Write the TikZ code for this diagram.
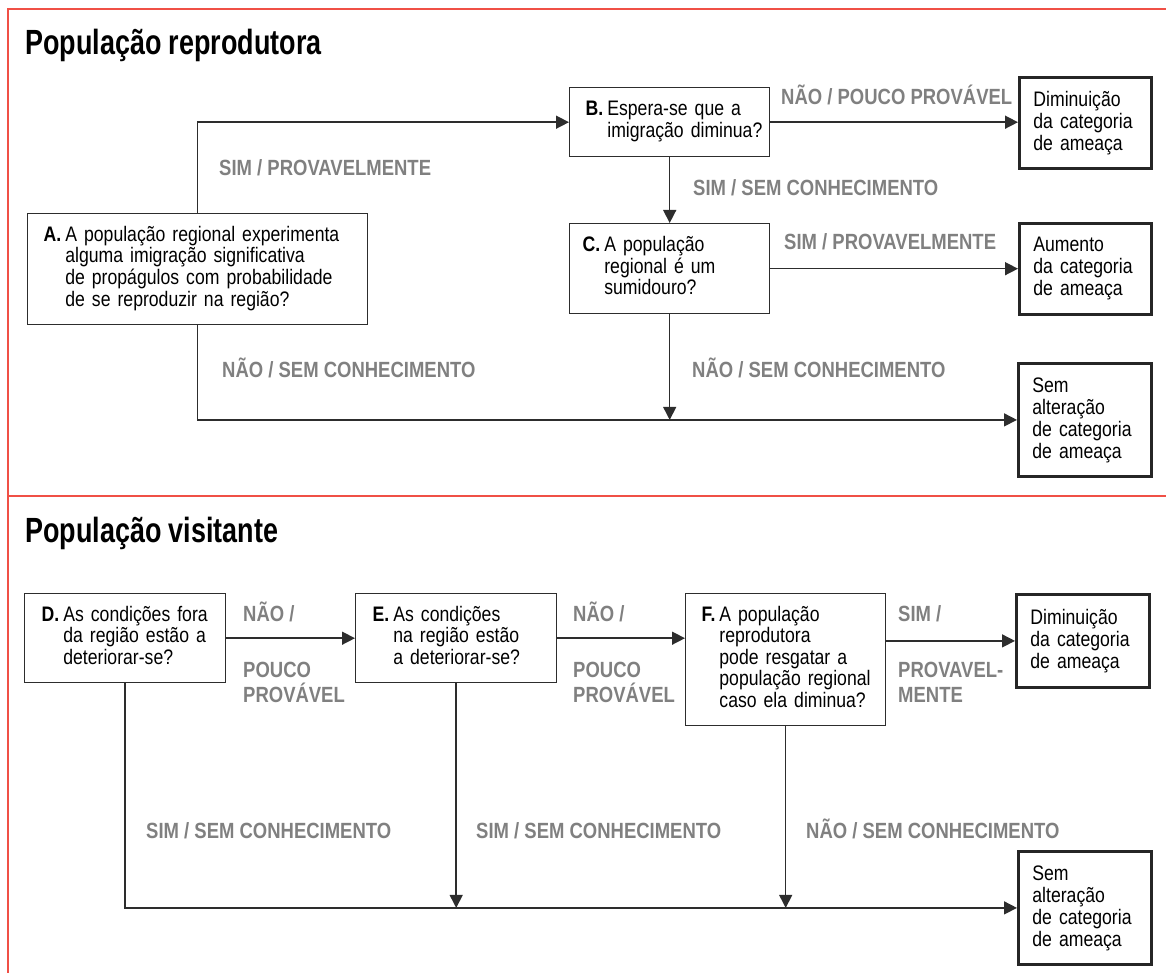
\documentclass[tikz,border=0pt]{standalone}
\usepackage{fontspec}
\setmainfont{Liberation Sans}[FakeStretch=0.84]
\newfontfamily\ttlfont{Liberation Sans}[FakeStretch=0.77]
\usetikzlibrary{arrows.meta}
\definecolor{redline}{RGB}{240,80,70}
\definecolor{linec}{RGB}{45,45,45}
\definecolor{labgray}{RGB}{128,128,128}
\newcommand\qlines[2]{\begin{tabular}{@{}l@{\hspace{4pt}}l@{}}\textbf{#1}&#2\end{tabular}}
\tikzset{
 qbox/.style={draw=linec, line width=1.4pt, inner xsep=0pt, inner ysep=0pt, align=left, anchor=north west, font=\fontsize{21}{21}\selectfont},
 rbox/.style={qbox, line width=2.8pt, draw=black!85, font=\fontsize{21}{22}\selectfont},
 conn/.style={draw=linec, line width=1.5pt},
 arr/.style={conn, -{Triangle[length=13pt,width=13pt]}},
 lab/.style={anchor=base west, inner sep=0pt, text=labgray, font=\fontsize{22}{25}\selectfont\bfseries, align=left},
 ttl/.style={anchor=base west, inner sep=0pt, font=\ttlfont\fontsize{35}{40}\selectfont\bfseries},
 frameline/.style={draw=redline, line width=1.5pt}
}
\begin{document}
\begin{tikzpicture}[x=1pt,y=-1pt]
\useasboundingbox (0,0) rectangle (1166,973);
% frame
\draw[frameline] (1166,9) -- (8,9) -- (8,973);
\draw[frameline] (8,496) -- (1166,496);
% titles
\node[ttl] (t1) at (25,55) {População reprodutora};
\node[ttl] (t2) at (25,542) {População visitante};
% section 1 boxes
\node[qbox, minimum width=340pt, minimum height=111pt, text width=308pt] (A) at (27,213)
 {\qlines{A.}{A população regional experimenta\\ & alguma imigração significativa\\ & de propágulos com probabilidade\\ & de se reproduzir na região?}};
\node[qbox, minimum width=200pt, minimum height=69pt, text width=168pt] (B) at (569,87)
 {\qlines{B.}{Espera-se que a\\ & imigração diminua?}};
\node[qbox, minimum width=200pt, minimum height=90pt, text width=174pt] (C) at (569,223)
 {\qlines{C.}{A população\\ & regional é um\\ & sumidouro?}};
\node[rbox, minimum width=132pt, minimum height=91pt, text width=104pt] (R1) at (1018,76)
 {Diminuição\\da categoria\\de ameaça};
\node[rbox, minimum width=132pt, minimum height=91pt, text width=104pt] (R2) at (1018,222)
 {Aumento\\da categoria\\de ameaça};
\node[rbox, minimum width=133pt, minimum height=113pt, text width=105pt] (R3) at (1017,362)
 {Sem\\alteração\\de categoria\\de ameaça};
% section 1 connectors
\draw[arr] (A.north) |- (B.west);
\draw[arr] (A.south) |- (R3.west);
\draw[arr] (B.east) -- (B.east -| R1.west);
\draw[arr] (B.south) -- (C.north);
\draw[arr] (C.east) -- (C.east -| R2.west);
\coordinate (c1) at (C.south |- R3.west);
\draw[arr] (C.south) -- (c1);
% section 1 labels
\node[lab] (l1) at (219,175.5) {SIM / PROVAVELMENTE};
\node[lab] (l2) at (222,377.5) {NÃO / SEM CONHECIMENTO};
\node[lab] (l3) at (781,104.5) {NÃO / POUCO PROVÁVEL};
\node[lab] (l4) at (693,196) {SIM / SEM CONHECIMENTO};
\node[lab] (l5) at (784,249.5) {SIM / PROVAVELMENTE};
\node[lab] (l6) at (692,377.5) {NÃO / SEM CONHECIMENTO};
% section 2 boxes
\node[qbox, minimum width=201pt, minimum height=89pt, text width=167pt] (D) at (24,593)
 {\qlines{D.}{As condições fora\\ & da região estão a\\ & deteriorar-se?}};
\node[qbox, minimum width=201pt, minimum height=89pt, text width=167pt] (E) at (355,593)
 {\qlines{E.}{As condições\\ & na região estão\\ & a deteriorar-se?}};
\node[qbox, minimum width=200pt, minimum height=132pt, text width=168pt] (F) at (685,593)
 {\qlines{F.}{A população\\ & reprodutora\\ & pode resgatar a\\ & população regional\\ & caso ela diminua?}};
\node[rbox, minimum width=133pt, minimum height=93pt, text width=105pt] (R4) at (1015,593)
 {Diminuição\\da categoria\\de ameaça};
\node[rbox, minimum width=133pt, minimum height=113pt, text width=105pt] (R5) at (1017,850)
 {Sem\\alteração\\de categoria\\de ameaça};
% section 2 connectors
\draw[arr] (D.east) -- (D.east -| E.west);
\draw[arr] (E.east) -- (E.east -| F.west);
\draw[arr] (F.east |- R4.west) -- (R4.west);
\draw[arr] (D.south) |- (R5.west);
\coordinate (e1) at (E.south |- R5.west);
\coordinate (f1) at (F.south |- R5.west);
\draw[arr] (E.south) -- (e1);
\draw[arr] (F.south) -- (f1);
% section 2 labels
\node[lab] (m1) at (243,621.5) {NÃO /};
\node[lab] (m2) at (243,702) {POUCO\\PROVÁVEL};
\node[lab] (m3) at (573,621.5) {NÃO /};
\node[lab] (m4) at (573,702) {POUCO\\PROVÁVEL};
\node[lab] (m5) at (898,621.5) {SIM /};
\node[lab] (m6) at (898,702) {PROVAVEL-\\MENTE};
\node[lab] (m7) at (146,838.5) {SIM / SEM CONHECIMENTO};
\node[lab] (m8) at (476,838.5) {SIM / SEM CONHECIMENTO};
\node[lab] (m9) at (806,838.5) {NÃO / SEM CONHECIMENTO};
\end{tikzpicture}
\end{document}
